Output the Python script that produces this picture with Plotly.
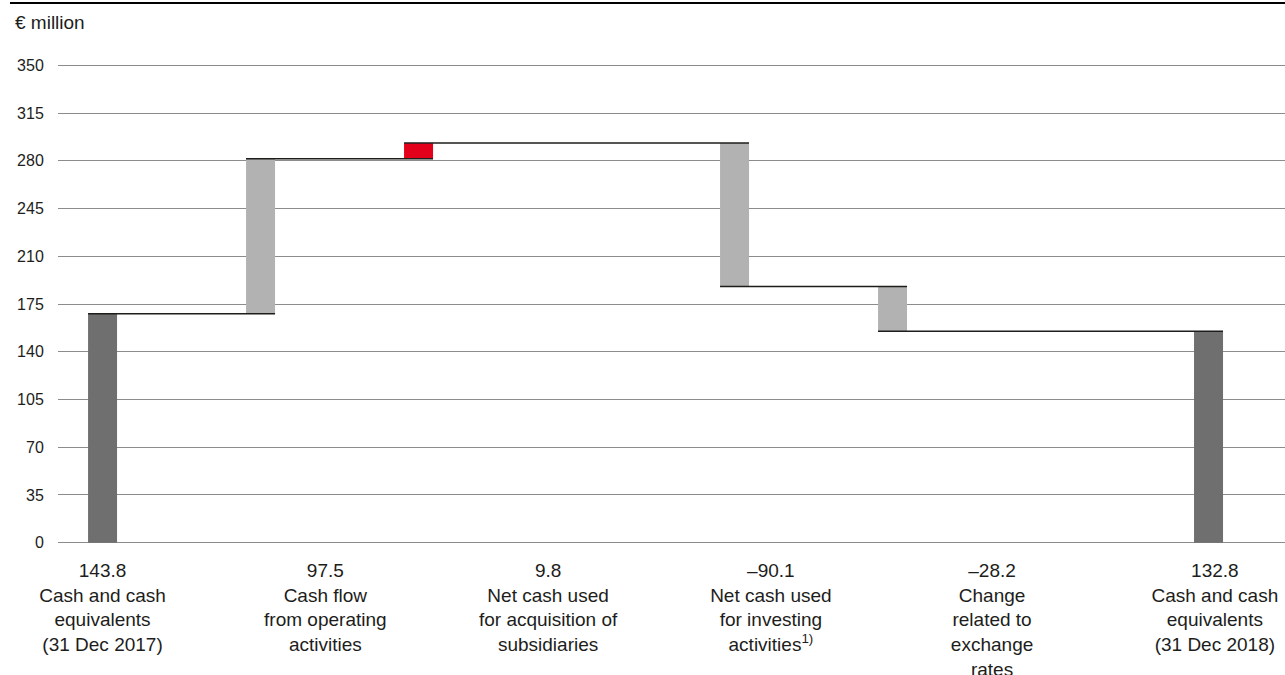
import plotly.graph_objects as go

# ---- data -------------------------------------------------------------
categories = [
    "Cash and cash<br>equivalents<br>(31 Dec 2017)",
    "Cash flow<br>from operating<br>activities",
    "Net cash used<br>for acquisition of<br>subsidiaries",
    "Net cash used<br>for investing<br>activities<sup>1)</sup>",
    "Change<br>related to<br>exchange<br>rates",
    "Cash and cash<br>equivalents<br>(31 Dec 2018)",
]
values = [143.8, 97.5, 9.8, -90.1, -28.2, 132.8]
kinds = ["total", "delta", "delta", "delta", "delta", "total"]
y_tick_labels = [0, 35, 70, 105, 140, 175, 210, 245, 280, 315, 350]

# ---- layout / style ---------------------------------------------------
bar_slots = [0, 1, 2, 4, 5, 7]
label_slots = [0, 1.41, 2.82, 4.23, 5.63, 7.04]
bar_width = 0.1835
bar_colors = ["#706f6f", "#b2b2b2", "#e3001b", "#b2b2b2", "#b2b2b2", "#706f6f"]
# the printed 0-350 scale spans the same height as 0-300 of the bar values
value_top, printed_top = 300, 350
edge_pad = 0.8  # keeps the outermost grid lines inside the plot area
FONT = "Liberation Sans, Arial, Helvetica, sans-serif"
TEXT = "#1d1d1b"

# running totals -> floating bar bases
bases, heights, levels = [], [], []
running = 0.0
for v, k in zip(values, kinds):
    if k == "total":
        bases.append(0.0)
        running = v
    else:
        bases.append(running)
        running += v
    heights.append(v)
    levels.append(running)

# connector lines: from the left edge of one bar to the right edge of the next
cx, cy = [], []
for i in range(len(values) - 1):
    cx += [bar_slots[i] - bar_width / 2, bar_slots[i + 1] + bar_width / 2, None]
    cy += [levels[i], levels[i], None]


def fmt(v):
    return f"{v:.1f}".replace("-", "\u2013")


tick_text = [f"{fmt(v)}<br>{c}" for v, c in zip(values, categories)]
y_tick_pos = [t * value_top / printed_top for t in y_tick_labels]

fig = go.Figure()
fig.add_trace(go.Bar(
    x=bar_slots, y=heights, base=bases, width=bar_width,
    marker=dict(color=bar_colors, line=dict(width=0)),
    hoverinfo="skip",
))
fig.add_trace(go.Scatter(
    x=cx, y=cy, mode="lines",
    line=dict(color=TEXT, width=1.5), hoverinfo="skip",
))

W, H = 1285, 675
ML, MR, MT, MB = 58, 0, 64, 131
pw, ph = W - ML - MR, H - MT - MB

fig.update_layout(
    width=W, height=H,
    margin=dict(l=ML, r=MR, t=MT, b=MB, pad=0),
    paper_bgcolor="white", plot_bgcolor="white",
    showlegend=False,
    font=dict(family=FONT, color=TEXT),
    xaxis=dict(
        range=[-0.282, 7.484], tickmode="array",
        tickvals=label_slots, ticktext=tick_text,
        showgrid=False, zeroline=False, showline=False,
        ticks="outside", ticklen=9, tickcolor="rgba(0,0,0,0)",
        tickfont=dict(size=19, family=FONT, color=TEXT),
        automargin=False, fixedrange=True,
    ),
    yaxis=dict(
        range=[-edge_pad, value_top + edge_pad], tickmode="array",
        tickvals=y_tick_pos, ticktext=[str(t) for t in y_tick_labels],
        showgrid=True, gridcolor="#8c8c8c", gridwidth=1,
        zeroline=False, showline=False,
        ticks="outside", ticklen=10, tickcolor="rgba(0,0,0,0)",
        tickfont=dict(size=16, family=FONT, color=TEXT),
        automargin=False, fixedrange=True,
    ),
)

# rule across the top of the figure
fig.add_shape(
    type="line", xref="paper", yref="paper",
    x0=(10 - ML) / pw, x1=1.0,
    y0=(H - MB - 3) / ph, y1=(H - MB - 3) / ph,
    line=dict(color="#000000", width=2),
)

# unit label
fig.add_annotation(
    text="\u20ac million", xref="paper", yref="paper",
    x=(13 - ML) / pw, y=(H - MB - 22) / ph,
    xanchor="left", yanchor="middle", showarrow=False,
    font=dict(size=19, family=FONT, color=TEXT),
)

fig.write_html("out.html", config={"displayModeBar": False})
